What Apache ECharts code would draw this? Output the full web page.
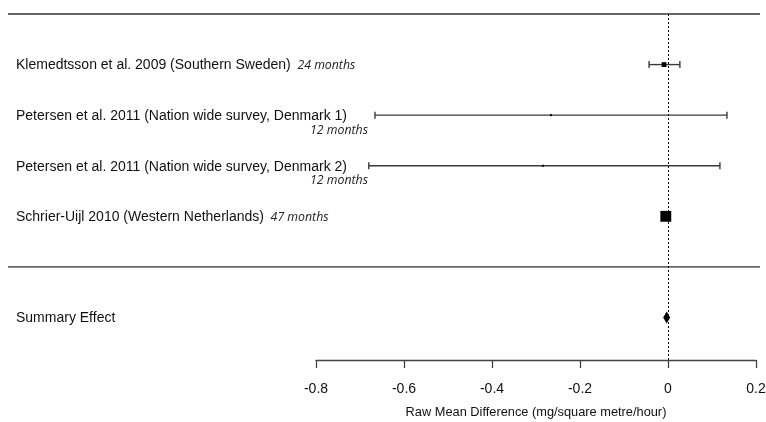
<!DOCTYPE html>
<html><head><meta charset="utf-8">
<script src="https://cdn.jsdelivr.net/npm/echarts@6/dist/echarts.min.js"></script>
<style>html,body{margin:0;padding:0;background:#fff}#c{width:766px;height:422px}</style>
</head><body><div id="c"></div>
<script>
// ---- data ----
const studies = [
  'Klemedtsson et al. 2009 (Southern Sweden)',
  'Petersen et al. 2011 (Nation wide survey, Denmark 1)',
  'Petersen et al. 2011 (Nation wide survey, Denmark 2)',
  'Schrier-Uijl 2010 (Western Netherlands)'
];
const durations = ['24 months', '12 months', '12 months', '47 months'];
const durationOnNextLine = [false, true, true, false];
const effects = [-0.009, -0.266, -0.284, -0.005];
const lowerCI = [-0.043, -0.666, -0.680, -0.012];
const upperCI = [0.027, 0.134, 0.118, 0.002];
const weights = [0.16, 0.01, 0.01, 0.82];
const rows = [1, 2, 3, 4];
const summaryLabel = 'Summary Effect';
const summaryEffect = -0.003;
const summaryLower = -0.011;
const summaryUpper = 0.005;
const summaryRow = 6;
const separatorRows = [0, 5];
const xTicks = [-0.8, -0.6, -0.4, -0.2, 0, 0.2];
const xTitle = 'Raw Mean Difference (mg/square metre/hour)';

// ---- chart ----
const chart = echarts.init(document.getElementById('c'), null, {renderer: 'canvas'});
const FONT = 'Liberation Sans, Arial, sans-serif';
const ITAL = 'Open Sans, sans-serif';

const studyData = rows.map((r, i) => [effects[i], r, lowerCI[i], upperCI[i], weights[i]]);
const labelData = rows.map((r, i) => [xTicks[0], r, i]).concat([[xTicks[0], summaryRow, -1]]);

function renderStudy(params, api) {
  const y = api.value(1);
  const pE = api.coord([api.value(0), y]);
  const pL = api.coord([api.value(2), y]);
  const pU = api.coord([api.value(3), y]);
  const s = Math.max(2, Math.sqrt(api.value(4)) * 12);
  const cap = 3.5;
  const st = {stroke: '#3a3a3a', lineWidth: 1.4};
  return {type: 'group', children: [
    {type: 'line', shape: {x1: pL[0], y1: pE[1], x2: pU[0], y2: pE[1]}, style: st},
    {type: 'line', shape: {x1: pL[0], y1: pE[1] - cap, x2: pL[0], y2: pE[1] + cap}, style: st},
    {type: 'line', shape: {x1: pU[0], y1: pE[1] - cap, x2: pU[0], y2: pE[1] + cap}, style: st},
    {type: 'rect', shape: {x: pE[0] - s / 2, y: pE[1] - s / 2, width: s, height: s}, style: {fill: '#000'}}
  ]};
}

function renderSummary(params, api) {
  const y = api.value(1);
  const pE = api.coord([api.value(0), y]);
  const pL = api.coord([api.value(2), y]);
  const pU = api.coord([api.value(3), y]);
  const h = 6;
  return {type: 'polygon', shape: {points: [[pL[0], pE[1]], [pE[0], pE[1] - h], [pU[0], pE[1]], [pE[0], pE[1] + h]]},
    style: {fill: '#000'}};
}

function renderLabel(params, api) {
  const p = api.coord([api.value(0), api.value(1)]);
  const i = api.value(2);
  if (i < 0) {
    return {type: 'text', x: 16, y: p[1] + 1, style: {text: summaryLabel, font: '14px ' + FONT, fill: '#111', verticalAlign: 'middle'}};
  }
  const children = [];
  if (durationOnNextLine[i]) {
    children.push({type: 'text', x: 16, y: p[1] + 1, style: {text: studies[i], font: '14px ' + FONT, fill: '#111', verticalAlign: 'middle'}});
    children.push({type: 'text', x: 368, y: p[1] + 15, style: {text: durations[i], font: 'italic 12.3px ' + ITAL, fill: '#222', verticalAlign: 'middle', align: 'right'}});
  } else {
    children.push({type: 'text', x: 16, y: p[1] + 1, style: {
      text: '{n|' + studies[i] + '}  {d|' + durations[i] + '}',
      verticalAlign: 'middle',
      rich: {n: {font: '14px ' + FONT, fill: '#111'}, d: {font: 'italic 12.3px ' + ITAL, fill: '#222'}}
    }});
  }
  return {type: 'group', children};
}

function renderSeparator(params, api) {
  const p = api.coord([xTicks[0], api.value(0)]);
  return {type: 'line', shape: {x1: 8, y1: p[1], x2: 760, y2: p[1]}, style: {stroke: '#666', lineWidth: 1.8}};
}

chart.setOption({
  animation: false,
  backgroundColor: '#fff',
  grid: {left: 316, right: 10, top: 14, bottom: 62, containLabel: false, outerBoundsMode: 'none'},
  xAxis: {
    type: 'value', min: xTicks[0], max: xTicks[xTicks.length - 1], interval: 0.2,
    axisLine: {onZero: false, lineStyle: {color: '#444', width: 1.3}},
    axisTick: {length: 8, lineStyle: {color: '#444', width: 1.3}},
    splitLine: {show: false},
    axisLabel: {margin: 22, fontSize: 14, color: '#111', fontFamily: FONT},
    name: xTitle, nameLocation: 'middle', nameGap: 46,
    nameTextStyle: {fontSize: 12.8, color: '#111', fontFamily: FONT}
  },
  yAxis: {type: 'value', min: 0, max: 6.84, inverse: true, show: false, splitLine: {show: false}},
  series: [
    {type: 'custom', renderItem: renderSeparator, data: separatorRows.map(r => [r]), encode: {y: 0}, silent: true, clip: false},
    {type: 'custom', renderItem: renderStudy, data: studyData, encode: {x: [0, 2, 3], y: 1}, clip: false,
      markLine: {silent: true, symbol: 'none', label: {show: false},
        lineStyle: {color: '#000', type: [2, 2], width: 1}, data: [{xAxis: 0}]}},
    {type: 'custom', renderItem: renderSummary, data: [[summaryEffect, summaryRow, summaryLower, summaryUpper]], encode: {x: [0, 2, 3], y: 1}, clip: false},
    {type: 'custom', renderItem: renderLabel, data: labelData, encode: {y: 1}, clip: false, silent: true}
  ]
});
</script>
</body></html>
